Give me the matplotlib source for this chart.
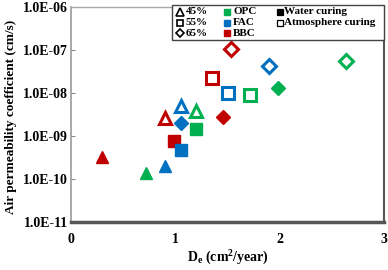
import matplotlib
matplotlib.use("Agg")
import matplotlib.pyplot as plt
from matplotlib.lines import Line2D
from matplotlib.patches import Rectangle

# ---- data ----
de = [0.30, 0.72, 0.90, 0.99, 1.05, 1.20, 1.05, 1.455, 1.98,
      0.90, 1.195, 1.05, 1.35, 1.72, 1.50, 1.53, 2.64, 1.90]
kair = [3.3e-10, 1.4e-10, 2.0e-10, 7.7e-10, 4.7e-10, 1.43e-9, 2.0e-9, 2.75e-9, 1.29e-8,
        2.6e-9, 3.9e-9, 5.0e-9, 2.27e-8, 9.0e-9, 1.0e-8, 1.07e-7, 5.5e-8, 4.3e-8]
mix = ["BBC", "OPC", "FAC", "BBC", "FAC", "OPC", "FAC", "BBC", "OPC",
       "BBC", "OPC", "FAC", "BBC", "OPC", "FAC", "BBC", "OPC", "FAC"]
wc = ["45%", "45%", "45%", "55%", "55%", "55%", "65%", "65%", "65%",
      "45%", "45%", "45%", "55%", "55%", "55%", "65%", "65%", "65%"]
curing = ["Water"] * 9 + ["Atmosphere"] * 9

mix_colors = {"OPC": "#00B050", "FAC": "#0070C0", "BBC": "#C00000"}
wc_markers = {"45%": "^", "55%": "s", "65%": "D"}
wc_sizes = {"45%": 9, "55%": 9, "65%": 7}
yticks = [1e-11, 1e-10, 1e-9, 1e-8, 1e-7, 1e-6]
ytick_labels = ["1.0E-11", "1.0E-10", "1.0E-09", "1.0E-08", "1.0E-07", "1.0E-06"]
xticks = [0, 1, 2, 3]
xtick_labels = ["0", "1", "2", "3"]

plt.rcParams["font.family"] = ["Liberation Serif", "DejaVu Serif"]
plt.rcParams["font.weight"] = "bold"
plt.rcParams["mathtext.fontset"] = "custom"
plt.rcParams["mathtext.rm"] = "Liberation Serif:bold"
plt.rcParams["mathtext.default"] = "rm"

W, H = 388, 270
fig = plt.figure(figsize=(W / 100, H / 100), dpi=100)
ax = fig.add_axes([71 / W, 1 - 222 / H, (384 - 71) / W, (222 - 7) / H])

for x, y, m, w, c in zip(de, kair, mix, wc, curing):
    col = mix_colors[m]
    if c == "Water":
        ax.plot(x, y, linestyle="none", marker=wc_markers[w], markersize=wc_sizes[w],
                markerfacecolor=col, markeredgecolor=col, markeredgewidth=1)
    else:
        ax.plot(x, y, linestyle="none", marker=wc_markers[w], markersize=wc_sizes[w],
                markerfacecolor="white", markeredgecolor=col, markeredgewidth=2.2)

ax.set_yscale("log")
ax.set_ylim(1e-11, 1e-6)
ax.set_xlim(0, 3)
ax.set_yticks(yticks)
ax.set_yticklabels(ytick_labels)
ax.minorticks_off()
ax.set_xticks(xticks)
ax.set_xticklabels(xtick_labels)
ax.tick_params(axis="y", direction="in", length=3, color="#888888", labelsize=10, pad=2)
ax.tick_params(axis="x", length=0, labelsize=10, pad=8)
for lab in ax.get_xticklabels() + ax.get_yticklabels():
    lab.set_fontweight("bold")

ax.spines["left"].set_color("#999999")
ax.spines["left"].set_linewidth(1.2)
ax.spines["top"].set_color("#aaaaaa")
ax.spines["top"].set_linewidth(1.0)
ax.spines["right"].set_color("#555555")
ax.spines["right"].set_linewidth(1.5)
ax.spines["bottom"].set_color("#555555")
ax.spines["bottom"].set_linewidth(2.5)

ax.set_ylabel("Air permeability coefficient (cm/s)", fontsize=9.5, fontweight="bold")
ax.yaxis.set_label_coords((11 - 71) / 313, 0.49)
ax.yaxis.label.set_va("center")
ax.set_xlabel(r"D$_\mathregular{e}$ (cm$^\mathregular{2}$/year)", fontsize=10, fontweight="bold")
ax.xaxis.set_label_coords(0.5, -(258 - 222) / 215)
ax.xaxis.label.set_va("center")

# ---- legend (manual box) ----
def fx(px):
    return px / W

def fy(py):
    return 1 - py / H

fig.patches.append(Rectangle((fx(172), fy(40)), fx(384) - fx(172), fy(5) - fy(40),
                             transform=fig.transFigure, facecolor="white",
                             edgecolor="#444444", linewidth=1.0, zorder=5))
rows = [12, 22.5, 33]
for i, w in enumerate(["45%", "55%", "65%"]):
    fig.add_artist(Line2D([fx(180)], [fy(rows[i])], marker=wc_markers[w], linestyle="none",
                          markersize={"45%": 6, "55%": 5, "65%": 4.2}[w], markerfacecolor="white",
                          markeredgecolor="black", markeredgewidth=1.2,
                          transform=fig.transFigure, zorder=6))
    fig.text(fx(186), fy(rows[i]), w, fontsize=8, fontweight="bold", va="center",
             ha="left", zorder=6)
for i, m in enumerate(["OPC", "FAC", "BBC"]):
    fig.add_artist(Line2D([fx(226.5)], [fy(rows[i])], marker="s", linestyle="none",
                          markersize=4.6, markerfacecolor=mix_colors[m],
                          markeredgecolor=mix_colors[m], transform=fig.transFigure, zorder=6))
    fig.text(fx(233), fy(rows[i]), m, fontsize=8, fontweight="bold", va="center",
             ha="left", zorder=6)
for i, (lab, fc) in enumerate([("Water curing", "black"), ("Atmosphere curing", "white")]):
    fig.add_artist(Line2D([fx(280)], [fy(rows[i])], marker="s", linestyle="none",
                          markersize=4.6, markerfacecolor=fc, markeredgecolor="black",
                          markeredgewidth=0.9, transform=fig.transFigure, zorder=6))
    fig.text(fx(284.5), fy(rows[i]), lab, fontsize=8, fontweight="bold", va="center",
             ha="left", zorder=6)

fig.savefig("out.png", dpi=100)
